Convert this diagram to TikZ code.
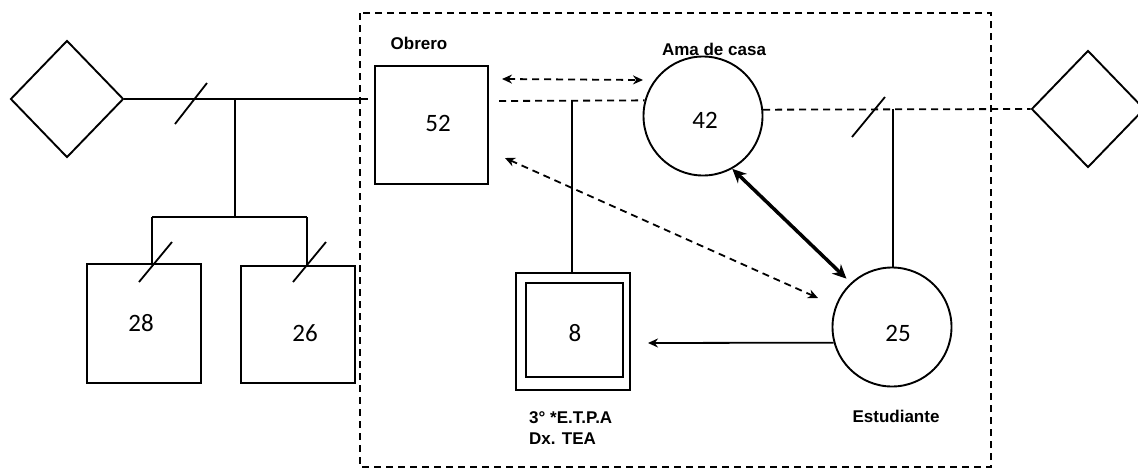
\documentclass[tikz,border=0pt]{standalone}
\usepackage{fontspec}
\setmainfont{Liberation Sans}
\newfontfamily\numfont{Carlito}
\usetikzlibrary{shapes.geometric,arrows.meta}
\tikzset{
  ln/.style={line width=1.8pt},
  dsh/.style={line width=1.8pt, dash pattern=on 7pt off 5pt},
  sq/.style={draw, line width=1.9pt, rectangle, inner sep=0pt},
  circ/.style={draw, line width=1.9pt, circle, inner sep=0pt, minimum size=119pt},
  dia/.style={draw, line width=1.9pt, diamond, inner sep=0pt, minimum width=113pt, minimum height=117pt},
  num/.style={font=\numfont\fontsize{25}{29}\selectfont, inner sep=0pt},
  lab/.style={font=\bfseries\fontsize{17}{21}\selectfont, inner sep=0pt},
  tip/.style={-{Stealth[length=10pt,width=9pt]}},
  tips/.style={{Stealth[length=10pt,width=9pt]}-{Stealth[length=10pt,width=9pt]}},
}
\begin{document}
\begin{tikzpicture}[x=1pt,y=-1pt]
\useasboundingbox (0,0) rectangle (1138,469);
% household boundary
\draw[dsh] (360,13) rectangle (991,467);
% shapes
\node[dia] (ldia) at (67,99) {};
\node[dia] (rdia) at (1088,109) {};
\node[sq, minimum width=113pt, minimum height=118pt] (sq52) at (431.5,125) {};
\node[sq, minimum width=114pt, minimum height=119pt] (sq28) at (144,323.5) {};
\node[sq, minimum width=114pt, minimum height=117pt] (sq26) at (298,324.5) {};
\node[sq, minimum width=114pt, minimum height=117pt] (dsq) at (573,331.5) {};
\node[sq, minimum width=97pt, minimum height=94pt] (dsqin) at (574.5,330) {};
\node[circ] (c42) at (703,116) {};
\node[circ] (c25) at (892,327) {};
% numbers
\node[num] (n52) at (438,123) {52};
\node[num] (n42) at (705,120) {42};
\node[num] (n28) at (141,323) {28};
\node[num] (n26) at (305,333) {26};
\node[num] (n8) at (575,333) {8};
\node[num] (n25) at (898,333) {25};
% labels
\node[lab] (lobr) at (419,43) {Obrero};
\node[lab] (lama) at (714,49) {Ama de casa};
\node[lab] (lest) at (896,416) {Estudiante};
\node[lab, align=left, anchor=west] (ldx) at (529,428.5) {3° *E.T.P.A\\Dx. TEA};
% coordinates
\coordinate (a1) at (368,99);
\coordinate (s1) at (235,99);
\coordinate (s2) at (235,217);
\coordinate (s3) at (152,217);
\coordinate (s4) at (307,217);
\coordinate (m1) at (499,101);
\coordinate (m2) at (572,101);
\coordinate (r1) at (893,109);
\coordinate (d1) at (502,79);
\coordinate (d2) at (643,80);
\coordinate (e1) at (505,158);
\coordinate (e2) at (818,298);
\coordinate (t1) at (648,343);
% left marriage & children
\draw[ln] (ldia.east) -- (a1);
\draw[ln] (175,124) -- (207,83);
\draw[ln] (s1) -- (s2);
\draw[ln] (s3) -- (s4);
\draw[ln] (s3) -- (s3 |- sq28.north);
\draw[ln] (s4) -- (s4 |- sq26.north);
\draw[ln] (139,282) -- (172,242);
\draw[ln] (293,282) -- (326,242);
% current couple
\draw[dsh] (m1) -- (c42.165);
\draw[ln] (m2) -- (m2 |- dsq.north);
\draw[dsh] (c42.6) -- (rdia.west);
\draw[ln] (852,137) -- (885,97);
\draw[ln] (r1) -- (r1 |- c25.north);
% relations
\draw[dsh, tips] (d1) -- (d2);
\draw[dsh, tips] (e1) -- (e2);
\draw[line width=3.5pt, {Stealth[length=14pt,width=13pt]}-{Stealth[length=14pt,width=13pt]}, shorten >=6pt] (c42.299) -- (c25.133);
\draw[ln, tip] (c25.195) -- (t1);
\end{tikzpicture}
\end{document}
